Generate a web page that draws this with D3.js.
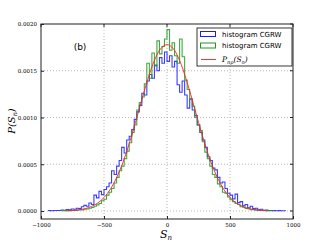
<!DOCTYPE html>
<html>
<head>
<meta charset="utf-8">
<script src="https://cdn.jsdelivr.net/npm/d3@7"></script>
<style>
  body { margin: 0; background: #fff; }
  text { fill: #000; }
</style>
</head>
<body>
<svg id="chart" width="327" height="245"></svg>
<script>
// bin width 20, values in units of 1e-4
const binWidth = 20;
const blueStart = -940;
const blueValues = [0.04, 0.03, 0.05, 0.06, 0.05, 0.10, 0.08, 0.15, 0.12, 0.22,
  0.18, 0.30, 0.25, 0.45, 0.60, 0.50, 0.85, 0.70, 1.70, 1.40,
  2.10, 1.75, 2.30, 2.60, 3.00, 4.30, 3.90, 4.80, 5.40, 6.80,
  6.20, 7.60, 8.00, 8.70, 9.80, 10.6, 11.3, 12.6, 12.4, 13.9,
  14.6, 14.2, 15.6, 15.0, 16.4, 15.8, 17.0, 16.0, 16.6, 15.4,
  16.0, 13.5, 12.7, 13.9, 12.4, 11.0, 12.0, 10.8, 10.2, 9.2,
  8.4, 7.6, 6.8, 5.8, 5.4, 4.6, 4.4, 3.6, 3.0, 3.1,
  2.4, 1.9, 1.7, 1.3, 1.8, 0.9, 1.0, 0.55, 0.70, 0.35,
  0.50, 0.25, 0.30, 0.12, 0.18, 0.08, 0.10, 0.05, 0.06, 0.04,
  0.03, 0.04, 0.02, 0.02];

const greenStart = -840;
const greenValues = [0.02, 0.03, 0.02, 0.04, 0.05, 0.06, 0.08, 0.10, 0.12, 0.18,
  0.22, 0.30, 0.38, 0.50, 0.65, 0.80, 1.10, 1.25, 1.70, 2.00,
  2.40, 3.00, 3.60, 4.30, 4.80, 5.60, 6.40, 7.30, 8.40, 9.20,
  10.8, 11.6, 12.2, 13.6, 15.8, 14.2, 16.9, 15.5, 18.2, 16.8,
  17.6, 18.4, 19.4, 17.2, 18.0, 16.6, 15.8, 18.4, 16.5, 14.0,
  13.0, 11.9, 11.2, 10.0, 9.2, 8.6, 7.4, 6.3, 5.6, 4.8,
  3.9, 3.6, 2.9, 2.6, 2.0, 1.9, 1.5, 1.2, 1.0, 0.80,
  0.70, 0.45, 0.40, 0.28, 0.24, 0.15, 0.14, 0.09, 0.08, 0.05,
  0.05, 0.03, 0.02, 0.02];

const curveX = [-800, -750, -700, -650, -600, -550, -500, -450, -400, -350, -300, -250, -200, -150, -100, -50,
  0, 50, 100, 150, 200, 250, 300, 350, 400, 450, 500, 550, 600, 650, 700, 750, 800];
const curveY = [0.029, 0.062, 0.13, 0.25, 0.48, 0.85, 1.44, 2.32, 3.56, 5.19, 7.20, 9.49, 11.9, 14.18, 16.1, 17.36,
  17.8, 17.36, 16.1, 14.18, 11.9, 9.49, 7.20, 5.19, 3.56, 2.32, 1.44, 0.85, 0.48, 0.25, 0.13, 0.062, 0.029];

const xTicks = [-1000, -500, 0, 500, 1000];
const yTicks = [0, 0.0005, 0.001, 0.0015, 0.002];
const legendLabels = ['histogram CGRW', 'histogram CGRW'];

const svg = d3.select('#chart');
const mLeft = 41, mRight = 293, mTop = 24, mBottom = 219;

const x = d3.scaleLinear().domain([-1000, 1000]).range([mLeft, mRight]);
const y = d3.scaleLinear().domain([-0.0000856, 0.002]).range([mBottom, mTop]);

// grid
svg.append('g').selectAll('line').data(xTicks.slice(1, -1)).enter().append('line')
  .attr('x1', d => x(d)).attr('x2', d => x(d)).attr('y1', mTop).attr('y2', mBottom)
  .attr('stroke', '#999').attr('stroke-width', 0.7).attr('stroke-dasharray', '1,2');
svg.append('g').selectAll('line').data(yTicks.slice(0, -1)).enter().append('line')
  .attr('x1', mLeft).attr('x2', mRight).attr('y1', d => y(d)).attr('y2', d => y(d))
  .attr('stroke', '#999').attr('stroke-width', 0.7).attr('stroke-dasharray', '1,2');

// step outline like histtype='step'
function stepPoints(start, values) {
  const pts = [[start, 0]];
  values.forEach((v, i) => {
    pts.push([start + i * binWidth, v * 1e-4]);
    pts.push([start + (i + 1) * binWidth, v * 1e-4]);
  });
  pts.push([start + values.length * binWidth, 0]);
  return pts;
}
const line = d3.line().x(d => x(d[0])).y(d => y(d[1]));

svg.append('path').attr('d', line(stepPoints(blueStart, blueValues)))
  .attr('fill', 'none').attr('stroke', '#1a1aff').attr('stroke-width', 1.1).attr('stroke-opacity', 0.85);
svg.append('path').attr('d', line(stepPoints(greenStart, greenValues)))
  .attr('fill', 'none').attr('stroke', '#1f9a1f').attr('stroke-width', 1.1).attr('stroke-opacity', 0.85);

const curve = d3.line().x((d, i) => x(curveX[i])).y(d => y(d * 1e-4)).curve(d3.curveCatmullRom);
svg.append('path').attr('d', curve(curveY))
  .attr('fill', 'none').attr('stroke', '#ff2020').attr('stroke-width', 0.9);

// frame
svg.append('rect').attr('x', mLeft).attr('y', mTop).attr('width', mRight - mLeft).attr('height', mBottom - mTop)
  .attr('fill', 'none').attr('stroke', '#222').attr('stroke-width', 1);

// axes
const xAxis = d3.axisBottom(x).tickValues(xTicks).tickSize(-3).tickPadding(4)
  .tickFormat(d => d < 0 ? '\u2212' + Math.abs(d) : d);
const gx = svg.append('g').attr('transform', `translate(0,${mBottom})`).call(xAxis);
const yAxis = d3.axisLeft(y).tickValues(yTicks).tickSize(-3).tickPadding(4).tickFormat(d3.format('.4f'));
const gy = svg.append('g').attr('transform', `translate(${mLeft},0)`).call(yAxis);
[gx, gy].forEach(g => {
  g.select('.domain').remove();
  g.selectAll('line').attr('stroke', '#222');
  g.selectAll('text').attr('font-family', 'DejaVu Serif, serif').attr('font-size', 5.5).attr('fill', '#222');
});
gy.selectAll('text').attr('dy', '0.35em');
// ticks on top and right
svg.append('g').selectAll('line').data(xTicks).enter().append('line')
  .attr('x1', d => x(d)).attr('x2', d => x(d)).attr('y1', mTop).attr('y2', mTop + 3).attr('stroke', '#222');
svg.append('g').selectAll('line').data(yTicks).enter().append('line')
  .attr('x1', mRight - 3).attr('x2', mRight).attr('y1', d => y(d)).attr('y2', d => y(d)).attr('stroke', '#222');

// labels
svg.append('text').attr('x', 80).attr('y', 50).attr('text-anchor', 'middle')
  .attr('font-family', 'DejaVu Sans, sans-serif').attr('font-size', 9).text('(b)');

const xl = svg.append('text').attr('x', 166).attr('y', 238).attr('text-anchor', 'middle')
  .attr('font-family', 'DejaVu Serif, serif').attr('font-style', 'italic').attr('font-size', 11);
xl.append('tspan').text('S');
xl.append('tspan').attr('font-size', 7).attr('dy', 2).text('n');

const yl = svg.append('text').attr('transform', 'translate(15,121) rotate(-90)').attr('text-anchor', 'middle')
  .attr('font-family', 'DejaVu Serif, serif').attr('font-style', 'italic').attr('font-size', 10);
yl.append('tspan').text('P(S');
yl.append('tspan').attr('font-size', 6.5).attr('dy', 2).text('n');
yl.append('tspan').attr('dy', -2).text(')');

// legend
const lg = svg.append('g');
lg.append('rect').attr('x', 197).attr('y', 28).attr('width', 95).attr('height', 38)
  .attr('fill', '#fff').attr('stroke', '#222').attr('stroke-width', 0.9);
const legendColors = ['#1a1aff', '#1f9a1f'];
legendLabels.forEach((t, i) => {
  const yy = 34 + i * 11.5;
  lg.append('rect').attr('x', 200.5).attr('y', yy - 2.5).attr('width', 15).attr('height', 5)
    .attr('fill', 'none').attr('stroke', legendColors[i]).attr('stroke-width', 1);
  lg.append('text').attr('x', 222).attr('y', yy + 2.5)
    .attr('font-family', 'DejaVu Sans, sans-serif').attr('font-size', 7).text(t);
});
lg.append('line').attr('x1', 201).attr('x2', 216).attr('y1', 59.5).attr('y2', 59.5)
  .attr('stroke', '#ff2020').attr('stroke-width', 0.9);
const lt = lg.append('text').attr('x', 222).attr('y', 62)
  .attr('font-family', 'DejaVu Serif, serif').attr('font-style', 'italic').attr('font-size', 7.5);
lt.append('tspan').text('P');
lt.append('tspan').attr('font-size', 5).attr('dy', 1.5).text('np');
lt.append('tspan').attr('dy', -1.5).text('(S');
lt.append('tspan').attr('font-size', 5).attr('dy', 1.5).text('n');
lt.append('tspan').attr('dy', -1.5).text(')');
</script>
</body>
</html>
